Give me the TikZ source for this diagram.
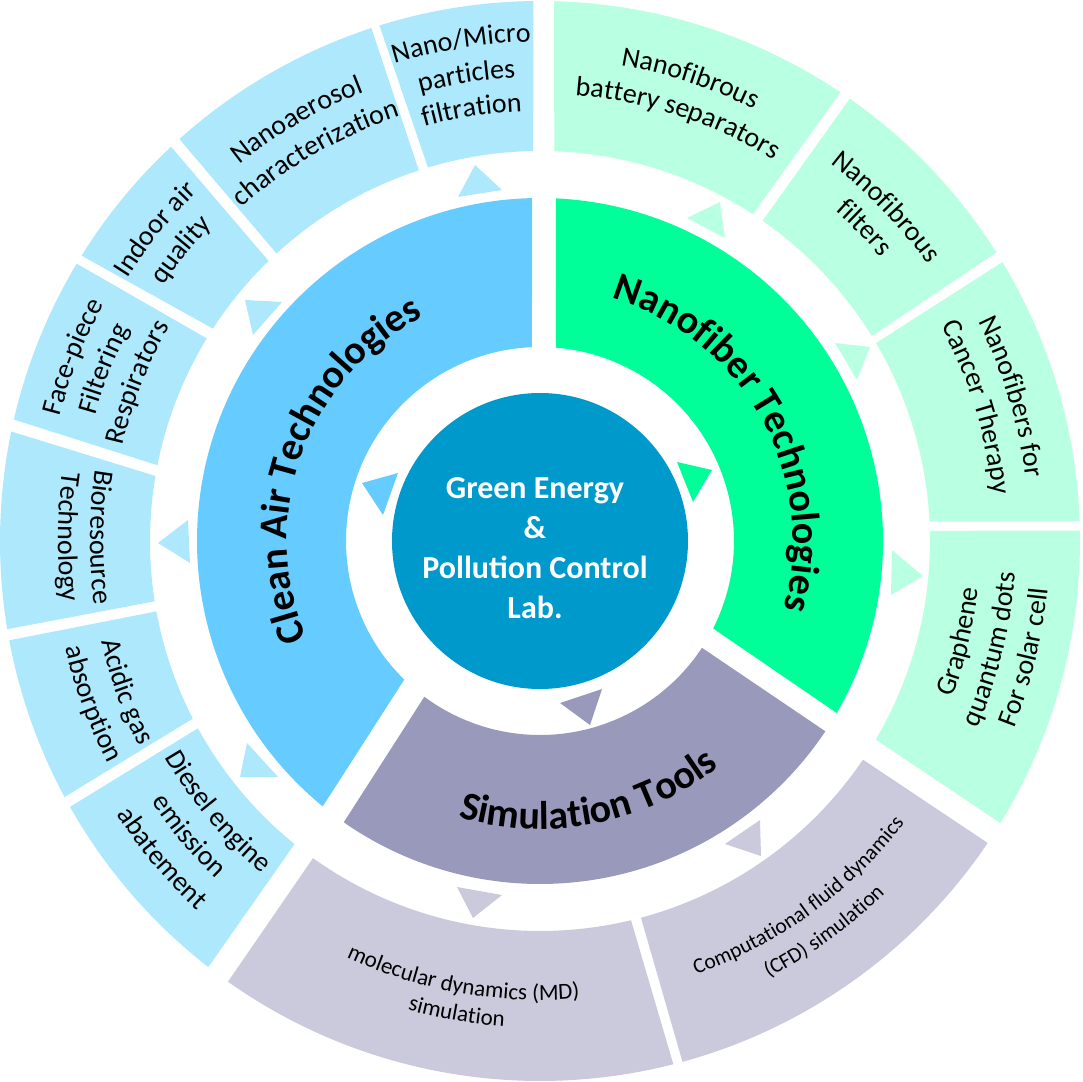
\documentclass[tikz,border=0pt]{standalone}
\usepackage{fontspec}
\setmainfont{Carlito}
\usetikzlibrary{decorations.text}

\definecolor{labblue}{RGB}{0,153,204}
\definecolor{airmid}{RGB}{102,204,255}
\definecolor{airout}{RGB}{173,232,252}
\definecolor{fibmid}{RGB}{0,255,153}
\definecolor{fibout}{RGB}{185,255,226}
\definecolor{simmid}{RGB}{153,153,187}
\definecolor{simout}{RGB}{203,202,221}

\tikzstyle{core_node} = [circle, minimum size=296pt, inner sep=0pt, fill=labblue]
\tikzstyle{core_text} = [align=center, text=white, font=\fontsize{32}{40}\selectfont\bfseries]
\tikzstyle{arc_text} = [decorate, decoration={text along path, text align=center}]

\newcommand{\ringfont}{\fontsize{28}{28}\selectfont}
\newcommand{\mdfont}{\fontsize{23}{23}\selectfont}
\newcommand{\cfdfont}{\fontsize{21.5}{21.5}\selectfont}
\newcommand{\midfont}{\fontsize{40}{40}\selectfont\bfseries}

% piece of a ring: colour, r in, r out, inner start, outer start, outer end, inner end
\newcommand{\ringpiece}[7]{\fill[fill=#1] (#4:#2) -- (#5:#3) arc[start angle=#5, end angle=#6, radius=#3] -- (#7:#2) arc[start angle=#7, end angle=#4, radius=#2] -- cycle;}
% text on an arc, letters facing out / facing in
\newcommand{\textout}[4]{\path[arc_text, decoration={text={|#1|#4}}] (#2+70:#3) arc[start angle=#2+70, end angle=#2-70, radius=#3];}
\newcommand{\textin}[4]{\path[arc_text, decoration={text={|#1|#4}}] (#2-70:#3) arc[start angle=#2-70, end angle=#2+70, radius=#3];}

\begin{document}
\begin{tikzpicture}[x=1pt, y=1pt]
\useasboundingbox (-540,-540) rectangle (543,541);

% outer ring
\foreach \col/\ai/\ao/\bo/\bi in {fibout/-30.6/-31.5/1.1/1.5, fibout/2.9/2.1/31.1/30.5, fibout/31.7/32.3/55.0/55.2, fibout/56.9/56.2/88.5/87.9,
    airout/91.0/90.7/107.3/106.7, airout/108.1/108.2/131.9/132.5, airout/134.1/133.1/148.1/147.0, airout/148.7/149.1/167.0/168.8,
    airout/170.4/168.3/189.4/188.9, airout/190.4/190.6/208.3/207.1, airout/208.7/209.5/232.1/231.0,
    simout/234.4/234.7/284.3/283.5, simout/285.0/285.3/326.0/325.9}
 {
   \ringpiece{\col}{390}{540}{\ai}{\ao}{\bo}{\bi}
 }

% middle ring
\foreach \col/\ai/\ao/\bo/\bi in {airmid/92.4/91.3/230.7/225.6, fibmid/-26.8/-30.1/87.3/85.3, simmid/233.4/235.1/326.3/326.6}
 {
   \ringpiece{\col}{194}{343}{\ai}{\ao}{\bo}{\bi}
 }

% small triangles
\foreach \col/\xa/\ya/\xb/\yb/\xc/\yc in {airout/-65/376/-82/344/-38/351, airout/-295/241/-258/239/-287/206,
    airout/-382/-2/-352/21/-350/-22, airout/-293/-202/-300/-236/-262/-236,
    fibout/147/323/180/339/185/303, fibout/295/198/330/194/317/161, fibout/352/-9/383/-35/351/-54,
    simout/185/-303/220/-279/221/-315, simout/-83/-346/-38/-354/-67/-377,
    airmid/-178/58/-142/68/-157/26, fibmid/137/79/172/71/153/39, simmid/20/-162/62/-148/50/-184}
 {
   \fill[fill=\col] (\xa,\ya) -- (\xb,\yb) -- (\xc,\yc) -- cycle;
 }

% centre
\node[core_node] (core) at (0,0) {};
\node[core_text] (lab) at (-5,-7) {Green Energy\\\&\\Pollution Control\\Lab.};

% middle labels
\textout{\midfont}{160}{253}{Clean Air Technologies}
\textout{\midfont}{29}{253}{Nanofiber Technologies}
\textin{\midfont}{281}{288}{Simulation Tools}

% clean air labels
\textout{\ringfont}{99}{499}{Nano/Micro}
\textout{\ringfont}{99}{464}{particles}
\textout{\ringfont}{99}{430}{filtration}
\textout{\ringfont}{120}{482}{Nanoaerosol}
\textout{\ringfont}{120}{447}{characterization}
\textout{\ringfont}{141}{489}{Indoor air}
\textout{\ringfont}{141}{455}{quality}
\textout{\ringfont}{158.5}{496}{Face-piece}
\textout{\ringfont}{158.5}{462}{Filtering}
\textout{\ringfont}{158.5}{428}{Respirators}
\textin{\ringfont}{179.5}{450}{Bioresource}
\textin{\ringfont}{179.5}{482}{Technology}
\textin{\ringfont}{200}{450}{Acidic gas}
\textin{\ringfont}{200}{486}{absorption}
\textin{\ringfont}{220}{433}{Diesel engine}
\textin{\ringfont}{220}{468}{emission}
\textin{\ringfont}{220}{504}{abatement}

% simulation labels
\textin{\mdfont}{260}{459}{molecular dynamics (MD)}
\textin{\mdfont}{260}{487}{simulation}
\textin{\cfdfont}{306}{461}{Computational fluid dynamics}
\textin{\cfdfont}{306}{493}{(CFD) simulation}

% nanofiber labels
\textin{\ringfont}{-13.5}{441}{Graphene}
\textin{\ringfont}{-13.5}{476}{quantum dots}
\textin{\ringfont}{-13.5}{510}{For solar cell}
\textout{\ringfont}{17}{490}{Nanofibers for}
\textout{\ringfont}{17}{455}{Cancer Therapy}
\textout{\ringfont}{44}{476}{Nanofibrous}
\textout{\ringfont}{44}{443}{filters}
\textout{\ringfont}{72}{482}{Nanofibrous}
\textout{\ringfont}{72}{447}{battery separators}
\end{tikzpicture}
\end{document}
